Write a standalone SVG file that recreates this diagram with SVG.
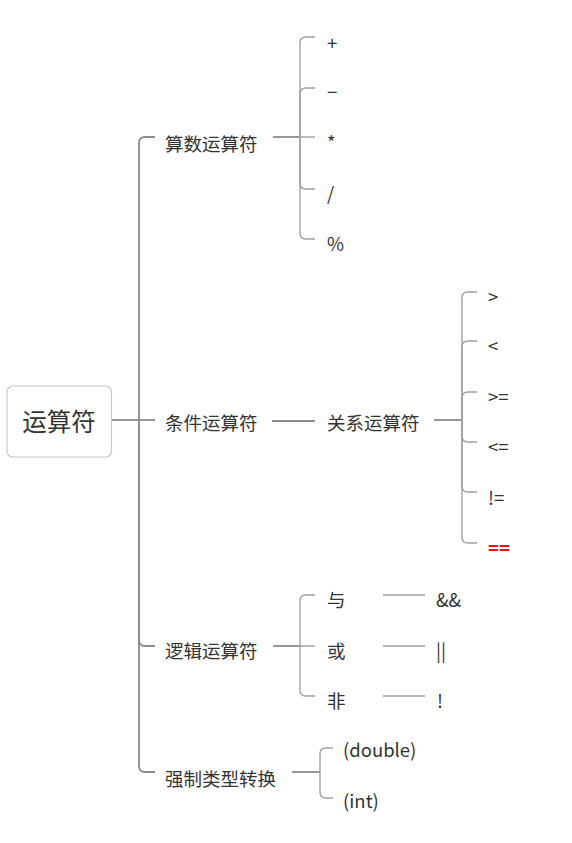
<svg xmlns="http://www.w3.org/2000/svg" width="572" height="843" viewBox="0 0 572 843">
<style>
text{font-family:"Noto Sans CJK SC","Noto Sans",sans-serif;fill:#333;dominant-baseline:central}
.root{font-size:24.5px}
.t{font-size:18.5px}
.l{font-size:18.5px}
.m{fill:none;stroke:#8c8c8c;stroke-width:1.8}
.c{fill:none;stroke:#a0a0a0;stroke-width:1.4}
</style>
<rect width="572" height="843" fill="#fff"/>
<g id="connectors">
<path class="m" d="M111 420 H139"/>
<path class="m" d="M139 420 V143 Q139 137 145 137 H155"/>
<path class="m" d="M139 420 H155"/>
<path class="m" d="M139 420 V640 Q139 646 145 646 H155"/>
<path class="m" d="M139 420 V766 Q139 772 145 772 H155"/>
<path class="m" d="M273 137 H300"/>
<path class="c" d="M300 137 V43 Q300 37 306 37 H315"/>
<path class="c" d="M300 137 V94 Q300 88 306 88 H315"/>
<path class="c" d="M300 137 H315"/>
<path class="c" d="M300 137 V183 Q300 189 306 189 H315"/>
<path class="c" d="M300 137 V233 Q300 239 306 239 H315"/>
<path class="m" d="M272 421 H315"/>
<path class="m" d="M434 420 H462"/>
<path class="c" d="M462 420 V298 Q462 292 468 292 H477"/>
<path class="c" d="M462 420 V347 Q462 341 468 341 H477"/>
<path class="c" d="M462 420 V398 Q462 392 468 392 H477"/>
<path class="c" d="M462 420 V436 Q462 442 468 442 H477"/>
<path class="c" d="M462 420 V486 Q462 492 468 492 H477"/>
<path class="c" d="M462 420 V537 Q462 543 468 543 H477"/>
<path class="m" d="M273 646 H300"/>
<path class="c" d="M300 646 V601 Q300 595 306 595 H315"/>
<path class="c" d="M300 646 H315"/>
<path class="c" d="M300 646 V690 Q300 696 306 696 H315"/>
<path class="c" d="M383 595 H425"/>
<path class="c" d="M383 646 H425"/>
<path class="c" d="M383 696 H425"/>
<path class="m" d="M292 772 H320"/>
<path class="c" d="M320 772 V754 Q320 748 326 748 H333"/>
<path class="c" d="M320 772 V792 Q320 798 326 798 H333"/>
</g>
<g id="root">
<rect x="7" y="386" width="104.5" height="71" rx="6" fill="#fff" stroke="#c8c8c8" stroke-width="1.2"/>
<text class="root" x="59" y="420" text-anchor="middle">运算符</text>
</g>
<g id="n-arith"><text class="t" x="165" y="142.5">算数运算符</text></g>
<g id="n-plus"><text class="l" x="327" y="41.5">+</text></g>
<g id="n-minus"><text class="l" x="327" y="90.5">−</text></g>
<g id="n-mul"><text class="l" x="327" y="141.5">*</text></g>
<g id="n-div"><text class="l" x="327" y="192.5">/</text></g>
<g id="n-mod"><text class="l" x="327" y="242.5">%</text></g>
<g id="n-cond"><text class="t" x="165" y="421.5">条件运算符</text></g>
<g id="n-rel"><text class="t" x="327" y="421.5">关系运算符</text></g>
<g id="n-gt"><text class="l" x="488" y="295.5">&gt;</text></g>
<g id="n-lt"><text class="l" x="488" y="344.5">&lt;</text></g>
<g id="n-ge"><text class="l" x="488" y="395.5">&gt;=</text></g>
<g id="n-le"><text class="l" x="488" y="445.5">&lt;=</text></g>
<g id="n-ne"><text class="l" x="488" y="496.5">!=</text></g>
<g id="n-eq"><text class="l" x="488" y="546.5" style="fill:#e8141b;font-weight:bold">==</text></g>
<g id="n-logic"><text class="t" x="165" y="649.5">逻辑运算符</text></g>
<g id="n-and"><text class="t" x="327" y="598.5">与</text></g>
<g id="n-or"><text class="t" x="327" y="649.5">或</text></g>
<g id="n-not"><text class="t" x="327" y="699.5">非</text></g>
<g id="n-andop"><text class="l" x="436" y="598.5">&amp;&amp;</text></g>
<g id="n-orop"><text class="l" x="436" y="649.5">||</text></g>
<g id="n-notop"><text class="l" x="437" y="699.5">!</text></g>
<g id="n-cast"><text class="t" x="165" y="777.5">强制类型转换</text></g>
<g id="n-double"><text class="l" x="343" y="748.5">(double)</text></g>
<g id="n-int"><text class="l" x="343" y="799.5">(int)</text></g>
</svg>
